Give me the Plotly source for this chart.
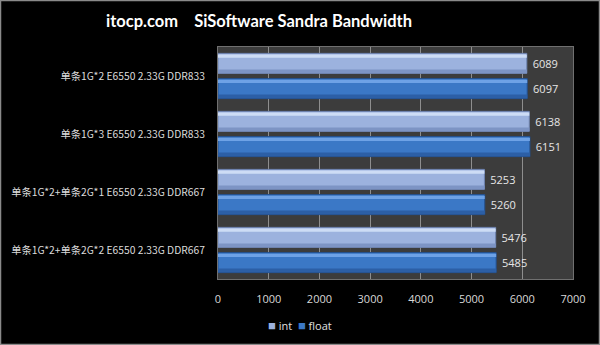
import plotly.graph_objects as go

categories = [
    "单条1G*2 E6550 2.33G DDR833",
    "单条1G*3 E6550 2.33G DDR833",
    "单条1G*2+单条2G*1 E6550 2.33G DDR667",
    "单条1G*2+单条2G*2 E6550 2.33G DDR667",
]
int_values = [6089, 6138, 5253, 5476]
float_values = [6097, 6151, 5260, 5485]
x_ticks = [0, 1000, 2000, 3000, 4000, 5000, 6000, 7000]
series_names = ["int", "float"]
series_colors = ["#9cb2de", "#3b78c6"]

pos = list(range(len(categories)))
W = 0.345
OFF_INT = -0.39
OFF_FLT = 0.045

fig = go.Figure()

def add_series(name, vals, off, main, hi, lo, edge):
    fig.add_trace(go.Bar(
        name=name, x=vals, y=pos, orientation="h",
        width=W, offset=off,
        marker=dict(color=main, line=dict(color=edge, width=1)),
        texttemplate="&nbsp;%{x}", textposition="outside",
        textfont=dict(color="#e6e6e6", size=11, family="Open Sans"),
        cliponaxis=False,
    ))
    fig.add_trace(go.Bar(
        x=vals, y=pos, orientation="h", width=W * 0.18, offset=off + W * 0.80,
        marker=dict(color=lo, line=dict(width=0)), showlegend=False, hoverinfo="skip",
    ))
    fig.add_trace(go.Bar(
        x=vals, y=pos, orientation="h", width=W * 0.16, offset=off + W * 0.06,
        marker=dict(color=hi, line=dict(width=0)), showlegend=False, hoverinfo="skip",
    ))

add_series(series_names[0], int_values, OFF_INT, series_colors[0], "#cddcf5", "#7d94c4", "#6f85b2")
add_series(series_names[1], float_values, OFF_FLT, series_colors[1], "#6ea2e6", "#2c5fa6", "#24508e")

PL, PR, PT, PB = 218, 27, 47, 66
pw = 600 - PL - PR
ph = 345 - PT - PB

legend_text = "  ".join(
    f'<span style="color:{c};font-size:13px">■</span> {n}' for n, c in zip(series_names, series_colors)
)

fig.update_layout(
    width=600, height=345,
    margin=dict(l=PL, r=PR, t=PT, b=PB, autoexpand=False),
    paper_bgcolor="#000000",
    plot_bgcolor="#3c3c3c",
    barmode="overlay",
    showlegend=False,
    separators=".",
    title=dict(text="itocp.com    SiSoftware Sandra Bandwidth", x=259 / 600, xref="container",
               xanchor="center", y=(345 - 21) / 345, yref="container", yanchor="middle",
               font=dict(color="#ffffff", size=16.5, family="Lato", weight="bold")),
    xaxis=dict(range=[0, 7000], tickvals=x_ticks, ticktext=[str(t) for t in x_ticks],
               showgrid=True, gridcolor="#8e8e8e", gridwidth=1, zeroline=False,
               showline=True, linecolor="#707070", mirror=True, automargin=False,
               tickfont=dict(color="#d8d8d8", size=11, family="Open Sans"), ticks="",
               ticklabelstandoff=10),
    yaxis=dict(range=[3.5, -0.5], tickvals=pos, ticktext=categories, showgrid=False,
               zeroline=False, showline=True, linecolor="#707070", mirror=True, automargin=False,
               tickfont=dict(color="#dcdcdc", size=10.3, family="Noto Sans CJK SC"), ticks="",
               ticklabelstandoff=10),
    annotations=[dict(text=legend_text, xref="paper", yref="paper",
                      x=(300 - PL) / pw, y=-(325 - (PT + ph)) / ph,
                      xanchor="center", yanchor="middle", showarrow=False,
                      font=dict(color="#e0e0e0", size=11, family="Open Sans"))],
    shapes=[dict(type="rect", xref="paper", yref="paper",
                 x0=-(PL - 0.5) / pw, x1=1 + (PR - 0.5) / pw,
                 y0=-(PB - 0.5) / ph, y1=1 + (PT - 0.5) / ph,
                 line=dict(color="#8a8a8a", width=1.5), layer="below")],
)

fig.write_html("out.html")
